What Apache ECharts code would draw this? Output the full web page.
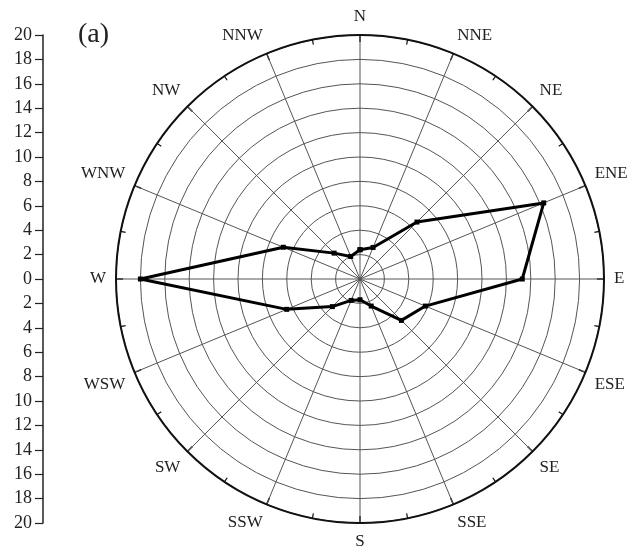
<!DOCTYPE html>
<html>
<head>
<meta charset="utf-8">
<script src="https://cdn.jsdelivr.net/npm/echarts@6/dist/echarts.min.js"></script>
<style>
  html, body { margin: 0; padding: 0; background: #fff; }
  #main { width: 633px; height: 555px; }
</style>
</head>
<body>
<div id="main"></div>
<script>
// wind directions, clockwise from north
var directions = ['N', 'NNE', 'NE', 'ENE', 'E', 'ESE', 'SE', 'SSE',
                  'S', 'SSW', 'SW', 'WSW', 'W', 'WNW', 'NW', 'NNW'];
// values (same order)
var values = [2.4, 2.8, 6.6, 16.3, 13.3, 5.8, 4.8, 2.4,
              1.7, 1.9, 3.2, 6.5, 18.0, 6.8, 3.0, 2.0];
var radiusMax = 20;
var step = 360 / directions.length;

var chart = echarts.init(document.getElementById('main'), null, { renderer: 'canvas' });

var lineData = values.map(function (v, i) { return [v, i * step]; });
lineData.push([values[0], 0]); // close the loop

var font = 'Liberation Serif';

var option = {
  animation: false,
  backgroundColor: '#fff',
  title: {
    text: '(a)',
    left: 73,
    top: 16,
    textStyle: { fontFamily: font, fontSize: 28, fontWeight: 'normal', color: '#222' }
  },
  polar: {
    center: [360, 279],
    radius: 244
  },
  angleAxis: {
    type: 'value',
    min: 0,
    max: 360,
    interval: step,
    startAngle: 90,
    clockwise: true,
    axisLine: { show: true, lineStyle: { color: '#111', width: 2 } },
    axisTick: { show: true, inside: true, length: 7, lineStyle: { color: '#111', width: 1.5 } },
    minorTick: { show: true, splitNumber: 2, length: 5, lineStyle: { color: '#111', width: 1.2 } },
    splitLine: { show: true, lineStyle: { color: '#555', width: 1 } },
    axisLabel: {
      margin: 10,
      fontFamily: font,
      fontSize: 17,
      color: '#222',
      formatter: function (v) {
        return directions[Math.round(v / step) % directions.length];
      }
    }
  },
  radiusAxis: {
    type: 'value',
    min: 0,
    max: radiusMax,
    interval: 2,
    axisLine: { show: false },
    axisTick: { show: false },
    axisLabel: { show: false },
    splitLine: { show: true, lineStyle: { color: '#555', width: 1 } }
  },
  grid: {
    left: 43,
    top: 35,
    height: 488,
    width: 10
  },
  xAxis: { type: 'value', show: false },
  yAxis: {
    type: 'value',
    min: -radiusMax,
    max: radiusMax,
    interval: 2,
    axisLine: { show: true, lineStyle: { color: '#222', width: 1.5 } },
    axisTick: { show: true, inside: false, length: 8, lineStyle: { color: '#222', width: 1.2 } },
    splitLine: { show: false },
    axisLabel: {
      margin: 11,
      fontFamily: font,
      fontSize: 18,
      color: '#222',
      formatter: function (v) { return Math.abs(v); }
    }
  },
  series: [{
    type: 'line',
    coordinateSystem: 'polar',
    data: lineData,
    symbol: 'rect',
    symbolSize: 5,
    lineStyle: { color: '#000', width: 3 },
    itemStyle: { color: '#000' },
    z: 5
  }]
};

chart.setOption(option);
</script>
</body>
</html>
